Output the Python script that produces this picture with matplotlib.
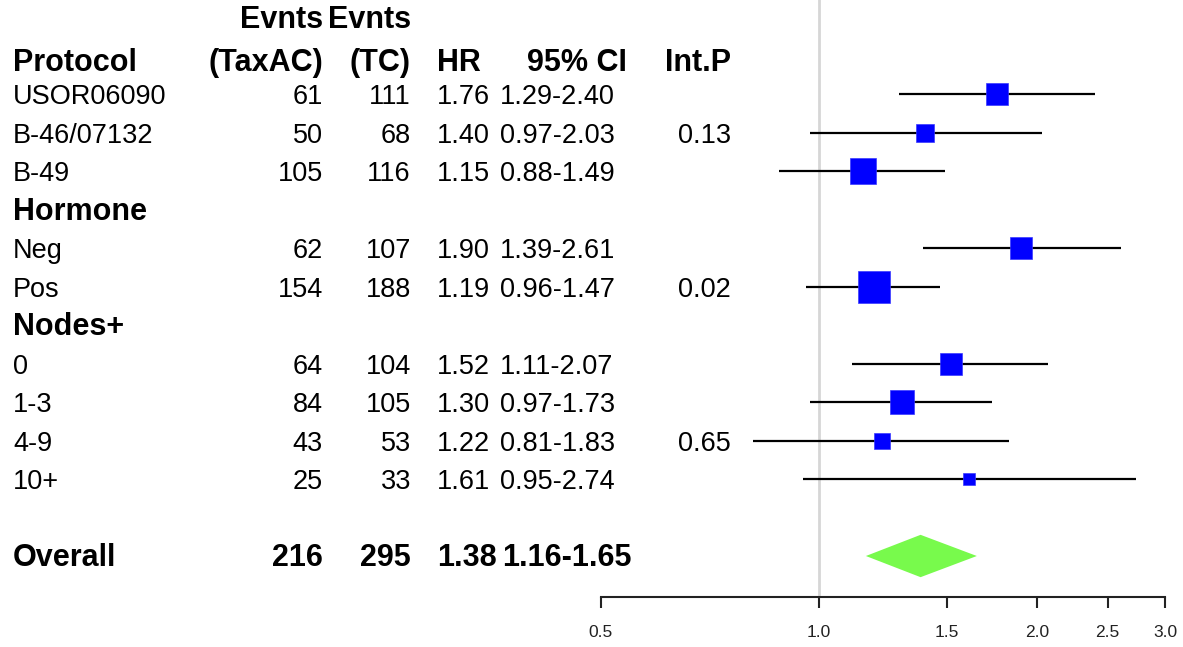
# Forest plot: HR by subgroup, TaxAC vs TC

import matplotlib.pyplot as plt
import matplotlib.transforms as mtransforms
from matplotlib.patches import Polygon
import numpy as np

plt.rcParams['font.family'] = ['Liberation Sans', 'DejaVu Sans']

labels = ['USOR06090', 'B-46/07132', 'B-49', 'Hormone', 'Neg', 'Pos',
          'Nodes+', '0', '1-3', '4-9', '10+', '', 'Overall']
is_header = [False, False, False, True, False, False,
             True, False, False, False, False, False, True]
evnts_taxac = [61, 50, 105, None, 62, 154, None, 64, 84, 43, 25, None, 216]
evnts_tc = [111, 68, 116, None, 107, 188, None, 104, 105, 53, 33, None, 295]
hr = [1.76, 1.40, 1.15, None, 1.90, 1.19, None, 1.52, 1.30, 1.22, 1.61, None, 1.38]
ci_lo = [1.29, 0.97, 0.88, None, 1.39, 0.96, None, 1.11, 0.97, 0.81, 0.95, None, 1.16]
ci_hi = [2.40, 2.03, 1.49, None, 2.61, 1.47, None, 2.07, 1.73, 1.83, 2.74, None, 1.65]
int_p = ['', '0.13', '', '', '', '0.02', '', '', '', '0.65', '', '', '']
summary_row = 12

x_ticks = [0.5, 1.0, 1.5, 2.0, 2.5, 3.0]

W, H = 1183, 647
fig = plt.figure(figsize=(W / 100, H / 100), dpi=100)

# plot region in pixels: x 601..1165, axis line at y=597
ax = fig.add_axes([601 / W, (H - 597) / H, 564 / W, 597 / H])
ax.set_xscale('log')
ax.set_xlim(0.5, 3.0)
row_px = 38.5
ax.set_ylim((597 - 94) / row_px, -94 / row_px)

ax.axvline(1.0, color='#d6d6d6', lw=2, zorder=0)

fs = 19.5
fs_bold = 22
trans = mtransforms.blended_transform_factory(fig.transFigure, ax.transData)
base = 0.27  # baseline offset below row center


def put(xpx, row, s, ha, bold=False):
    ax.text(xpx / W, row + base, s, transform=trans, ha=ha, va='baseline',
            fontsize=fs_bold if bold else fs,
            fontweight='bold' if bold else 'normal', clip_on=False)


# headers
put(323, -1.98, 'Evnts', 'right', True)
put(411, -1.98, 'Evnts', 'right', True)
put(13, -0.88, 'Protocol', 'left', True)
put(323, -0.88, '(TaxAC)', 'right', True)
put(411, -0.88, '(TC)', 'right', True)
put(437, -0.88, 'HR', 'left', True)
put(527, -0.88, '95% CI', 'left', True)
put(665, -0.88, 'Int.P', 'left', True)

scale = 13.5  # box side in px per unit of 1/log-width of the CI

for i, lab in enumerate(labels):
    bold = is_header[i]
    put(13, i, lab, 'left', bold)
    if hr[i] is None:
        continue
    put(323, i, str(evnts_taxac[i]), 'right', bold)
    put(411, i, str(evnts_tc[i]), 'right', bold)
    put(437, i, f'{hr[i]:.2f}', 'left', bold)
    put(502 if bold else 500, i, f'{ci_lo[i]:.2f}-{ci_hi[i]:.2f}', 'left', bold)
    if int_p[i]:
        put(731, i, int_p[i], 'right')
    if i == summary_row:
        h = 0.55
        diamond = Polygon([(ci_lo[i], i), (hr[i], i - h), (ci_hi[i], i), (hr[i], i + h)],
                          closed=True, facecolor='#78fa4c', edgecolor='none', zorder=3)
        ax.add_patch(diamond)
    else:
        ax.plot([ci_lo[i], ci_hi[i]], [i, i], color='black', lw=1.6, zorder=2,
                solid_capstyle='butt')
        side = scale / (np.log(ci_hi[i]) - np.log(ci_lo[i]))
        ax.plot([hr[i]], [i], marker='s', color='#0000ff', markersize=side * 0.72,
                markeredgecolor='#3a3aff', markeredgewidth=0.5, zorder=3)

# axis styling
for sp in ['left', 'right', 'top']:
    ax.spines[sp].set_visible(False)
ax.spines['bottom'].set_linewidth(1.5)
ax.spines['bottom'].set_color('#222222')
ax.set_yticks([])
ax.set_xticks(x_ticks)
ax.set_xticklabels([f'{t:.1f}' for t in x_ticks])
ax.xaxis.set_minor_locator(plt.NullLocator())
ax.tick_params(axis='x', length=8, width=1.5, color='#222222', pad=12,
               labelsize=12.5, labelcolor='#222222')

fig.savefig('out.png', dpi=100)
